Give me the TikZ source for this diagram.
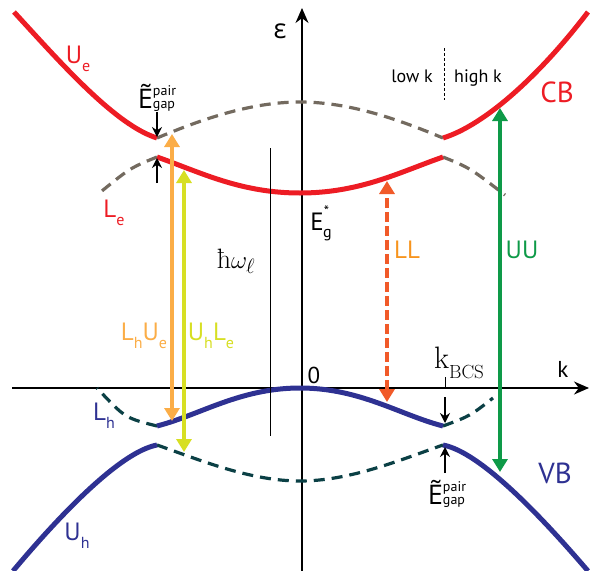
\documentclass[tikz,border=0pt]{standalone}
\usepackage{amsmath}
\usepackage{fontspec}
\setsansfont{PT Sans}
\newfontfamily\grkfont{Open Sans}
\usetikzlibrary{arrows.meta}

\definecolor{cbred}{HTML}{ED1C24}
\definecolor{vbblue}{HTML}{2E3192}
\definecolor{ghostgray}{HTML}{736A5F}
\definecolor{ghostteal}{HTML}{0B4045}
\definecolor{lhue}{HTML}{FBAD47}
\definecolor{uhle}{HTML}{D7DF23}
\definecolor{llarrow}{HTML}{F15A29}
\definecolor{lltext}{HTML}{F7941D}
\definecolor{uugreen}{HTML}{0E9A48}

\newcommand{\lsub}[2]{#1\raisebox{-.32em}{\fontsize{16}{16}\selectfont #2}}
\newcommand{\gaplab}{{\grkfont\fontsize{27}{30}\selectfont Ẽ}{\fontsize{14}{12.5}\selectfont
  \begin{tabular}[b]{@{}l@{}}pair\\gap\end{tabular}}}

\begin{document}
\begin{tikzpicture}[x=1pt,y=-1pt,
    band/.style={line width=5pt},
    ghost/.style={line width=3.2pt,dash pattern=on 11pt off 7pt},
    trans/.style={line width=3.5pt,{Triangle[length=13pt,width=15pt]}-{Triangle[length=13pt,width=15pt]}},
    gaparrow/.style={line width=1.3pt,-{Stealth[length=10pt,width=10pt]}},
    lbl/.style={anchor=base,font=\sffamily\fontsize{25}{30}\selectfont}]
	\useasboundingbox (0,0) rectangle (590,571);

	% axes
	\coordinate (eb) at (302,571);
	\coordinate (et) at (302,8);
	\coordinate (kl) at (12,388);
	\coordinate (kr) at (589,388);
	\draw[line width=1.8pt,-{Stealth[length=15pt,width=13pt]}] (eb) -- (et);
	\draw[line width=1.8pt,-{Stealth[length=15pt,width=13pt]}] (kl) -- (kr);

	% gap points
	\coordinate (ul) at (157,138);
	\coordinate (ll) at (157,157);
	\coordinate (ur) at (443,138);
	\coordinate (lr) at (443,157);
	\coordinate (hl) at (157,426);
	\coordinate (uhl) at (157,445);
	\coordinate (hr) at (443,426);
	\coordinate (uhr) at (443,445);

	% ghost branches
	\draw[ghost,ghostgray] (ul) .. controls (200,120) and (250,102) .. (300,102)
	      .. controls (350,102) and (400,120) .. (ur);
	\draw[ghost,ghostgray] (ll) .. controls (130,168) .. (97,195);
	\draw[ghost,ghostgray] (lr) .. controls (470,168) .. (505,195);
	\draw[ghost,ghostteal] (uhl) .. controls (200,460) and (250,481) .. (300,481)
	      .. controls (350,481) and (400,460) .. (uhr);
	\draw[ghost,ghostteal] (hl) .. controls (125,418) .. (97,388);
	\draw[ghost,ghostteal] (hr) .. controls (470,416) .. (493,398);

	% conduction band
	\draw[band,cbred] (14,12) .. controls (60,62) and (115,125) .. (ul);
	\draw[band,cbred] (ur) .. controls (485,125) and (540,75) .. (588,12);
	\draw[band,cbred] (ll) .. controls (200,172) and (240,193) .. (300,193)
	      .. controls (360,193) and (400,172) .. (lr);

	% valence band
	\draw[band,vbblue] (hl) .. controls (200,415) and (240,388) .. (300,388)
	      .. controls (360,388) and (400,415) .. (hr);
	\draw[band,vbblue] (uhl) .. controls (120,452) and (60,515) .. (13,571);
	\draw[band,vbblue] (uhr) .. controls (480,452) and (540,515) .. (588,571);

	% transitions
	\coordinate (a1t) at (172,134);
	\coordinate (a1b) at (172,421);
	\coordinate (a2t) at (184,170);
	\coordinate (a2b) at (184,452);
	\coordinate (a3t) at (387,181);
	\coordinate (a3b) at (387,402);
	\coordinate (a4t) at (500,108);
	\coordinate (a4b) at (500,472);
	\draw[trans,lhue] (a1b) -- (a1t);
	\draw[trans,uhle] (a2b) -- (a2t);
	\draw[trans,llarrow,dash pattern=on 10pt off 4pt] (a3b) -- (a3t);
	\draw[trans,uugreen] (a4b) -- (a4t);

	% gap markers
	\coordinate (g1) at (157,112);
	\coordinate (g2) at (157,183);
	\coordinate (g3) at (445,397);
	\coordinate (g4) at (445,473);
	\draw[gaparrow] (g1) -- (157,137);
	\draw[gaparrow] (g2) -- (157,158);
	\draw[gaparrow] (g3) -- (445,423);
	\draw[gaparrow] (g4) -- (445,447);

	% photon energy, k_BCS tick, low/high divider
	\coordinate (w1) at (270,148);
	\coordinate (w2) at (270,436);
	\draw[line width=1pt] (w1) -- (w2);
	\coordinate (tk) at (445,377);
	\draw[line width=1pt] (tk) -- (445,388);
	\coordinate (d1) at (444,48);
	\coordinate (d2) at (444,100);
	\draw[line width=0.9pt,dash pattern=on 3pt off 2pt] (d1) -- (d2);

	% labels
	\node[lbl,font=\grkfont\fontsize{27}{30}\selectfont] (eps) at (280,38) {ε};
	\node[lbl] (kax) at (563,377) {\fontsize{23}{26}\selectfont k};
	\node[lbl] (zero) at (314,383) {\fontsize{23}{26}\selectfont 0};
	\node[lbl,text=cbred] (ue) at (78,63) {\lsub{U}{e}};
	\node[lbl,text=cbred] (le) at (114,217) {\lsub{L}{e}};
	\node[lbl,text=vbblue] (lh) at (104,420) {\lsub{L}{h}};
	\node[lbl,text=vbblue] (uh) at (77,540) {\lsub{U}{h}};
	\node[lbl,text=cbred,font=\sffamily\fontsize{29}{32}\selectfont] (cb) at (557,102) {CB};
	\node[lbl,text=vbblue,font=\sffamily\fontsize{29}{32}\selectfont] (vb) at (555,483) {VB};
	\node[lbl] (gu) at (157,108) {\gaplab};
	\node[lbl] (gd) at (447,504) {\gaplab};
	\node[lbl] (eg) at (321,230) {E\raisebox{.55em}{\fontsize{15}{15}\selectfont *}\kern-6pt\raisebox{-.3em}{\fontsize{16}{16}\selectfont g}};
	\node[lbl,font=\rmfamily\fontsize{28}{30}\selectfont] (hw) at (236,268) {ħ$\omega_\ell$};
	\node[lbl,font=\rmfamily\fontsize{31}{34}\selectfont] (kbcs) at (459,368) {k\raisebox{-10pt}{\fontsize{19}{20}\selectfont BCS}};
	\node[lbl,text=lhue] (t1) at (144,340) {\lsub{L}{h}\lsub{U}{e}};
	\node[lbl,text=uhle] (t2) at (211,340) {\lsub{U}{h}\lsub{L}{e}};
	\node[lbl,text=lltext] (t3) at (407,258) {LL};
	\node[lbl,text=uugreen] (t4) at (522,258) {UU};
	\node[lbl,font=\sffamily\fontsize{18}{20}\selectfont] (lowk) at (412,82) {low k};
	\node[lbl,font=\sffamily\fontsize{18}{20}\selectfont] (highk) at (478,82) {high k};
\end{tikzpicture}
\end{document}
